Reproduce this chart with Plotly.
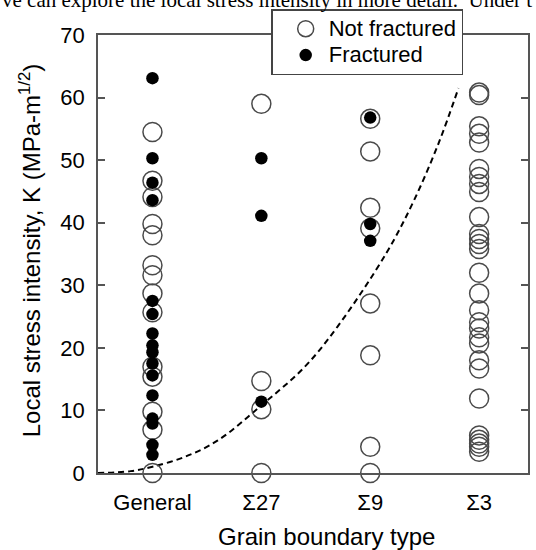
import plotly.graph_objects as go

# ---------------- data ----------------
categories = ["General", "Σ27", "Σ9", "Σ3"]

general_not_fractured = [54.5, 46.7, 44.1, 39.8, 38.0, 33.2, 31.6, 28.7, 25.7,
                         17.0, 15.4, 9.8, 6.9, 0.0]
general_fractured = [63.1, 50.3, 46.4, 43.6, 27.5, 25.4, 22.3, 20.4, 19.3,
                     17.5, 15.6, 12.4, 8.7, 7.9, 4.5, 2.9]

s27_not_fractured = [59.0, 14.7, 10.2, 0.0]
s27_fractured = [50.3, 41.1, 11.4]

s9_not_fractured = [56.6, 51.4, 42.4, 39.1, 27.1, 18.8, 4.2, 0.0]
s9_fractured = [56.8, 39.8, 37.1]

s3_not_fractured = [60.8, 60.4, 55.4, 54.2, 52.8, 48.6, 47.3, 46.2, 44.9, 40.9,
                    38.2, 37.4, 36.6, 35.8, 32.0, 28.7, 26.0, 24.1, 23.1, 21.7,
                    20.7, 18.0, 16.7, 11.9, 6.0, 5.3, 4.7, 4.2, 3.4]
s3_fractured = []

# dashed guide curve (x in category units)
curve_x = [0.5, 0.8, 1.0, 1.3, 1.6, 2.0, 2.4, 2.7, 3.15, 3.4, 3.63, 3.81]
curve_k = [0.0, 0.3, 1.0, 2.6, 5.2, 10.8, 17.0, 23.4, 35.2, 43.5, 52.8, 61.5]

y_ticks = [0, 10, 20, 30, 40, 50, 60, 70]

# ---------------- build traces ----------------
nf_groups = [general_not_fractured, s27_not_fractured, s9_not_fractured, s3_not_fractured]
f_groups = [general_fractured, s27_fractured, s9_fractured, s3_fractured]

nf_x, nf_y, f_x, f_y = [], [], [], []
for i, vals in enumerate(nf_groups):
    nf_x += [i + 1] * len(vals)
    nf_y += vals
for i, vals in enumerate(f_groups):
    f_x += [i + 1] * len(vals)
    f_y += vals

FONT = "Liberation Sans, Arial, sans-serif"

fig = go.Figure()
fig.add_trace(go.Scatter(
    x=curve_x, y=curve_k, mode="lines", showlegend=False,
    line=dict(color="black", width=2, dash="6px,4px", shape="spline", smoothing=1.0),
    hoverinfo="skip"))
fig.add_trace(go.Scatter(
    x=nf_x, y=nf_y, mode="markers",
    name="<span style='font-size:22px'>Not fractured</span>", cliponaxis=False,
    marker=dict(symbol="circle", size=19, color="rgba(0,0,0,0)",
                line=dict(color="#4a4a4a", width=1.5))))
fig.add_trace(go.Scatter(
    x=f_x, y=f_y, mode="markers",
    name="<span style='font-size:22px'>Fractured</span>", cliponaxis=False,
    marker=dict(symbol="circle", size=12.5, color="black",
                line=dict(color="black", width=0))))

L, R, T, B = 98, 6, 35, 77
W, H = 536, 550
pw, ph = W - L - R, H - T - B

def px_x(px):
    return (px - L) / pw

def px_y(py):
    return (H - B - py) / ph

fig.update_layout(
    width=W, height=H,
    margin=dict(l=L, r=R, t=T, b=B, pad=0),
    paper_bgcolor="white", plot_bgcolor="white",
    font=dict(family=FONT, size=22, color="black"),
    showlegend=True,
    legend=dict(x=px_x(272), y=px_y(9), xanchor="left", yanchor="top",
                bgcolor="white", bordercolor="#444", borderwidth=1.5,
                font=dict(family=FONT, size=18, color="black"),
                tracegroupgap=0, itemwidth=36, indentation=10),
    xaxis=dict(range=[0.5, 0.5 + pw / 109.4], tickmode="array",
               tickvals=[1, 2, 3, 4], ticktext=categories,
               showgrid=False, zeroline=False, showline=True, mirror=True,
               linecolor="#555", linewidth=1.5, ticks="",
               tickfont=dict(family=FONT, size=22, color="black"),
               ticklabelstandoff=9),
    yaxis=dict(range=[0, 70], tickmode="array", tickvals=y_ticks,
               showgrid=False, zeroline=False, showline=True, mirror="ticks",
               linecolor="#555", linewidth=1.5, ticks="inside", ticklen=7,
               tickcolor="#555", tickwidth=1.5,
               tickfont=dict(family=FONT, size=22, color="black"),
               ticklabelstandoff=7),
    annotations=[
        dict(text="Grain boundary type", xref="paper", yref="paper",
             x=px_x(328), y=px_y(536), xanchor="center", yanchor="middle",
             showarrow=False, font=dict(family=FONT, size=24, color="black")),
        dict(text="Local stress intensity, K (MPa-m<sup>1/2</sup>)",
             xref="paper", yref="paper", x=px_x(30), y=px_y(250),
             xanchor="center", yanchor="middle", textangle=-90,
             showarrow=False, font=dict(family=FONT, size=24, color="black")),
        dict(text="ve can explore the local stress intensity in more detail.  Under t",
             xref="paper", yref="paper", x=px_x(0), y=px_y(14),
             xanchor="left", yanchor="bottom", showarrow=False,
             font=dict(family="Liberation Serif, Times New Roman, serif", size=21,
                       color="black")),
    ],
)

fig.write_html("out.html",
               config={"displayModeBar": False},
               post_script="document.body.style.margin='0';document.body.style.padding='0';")
